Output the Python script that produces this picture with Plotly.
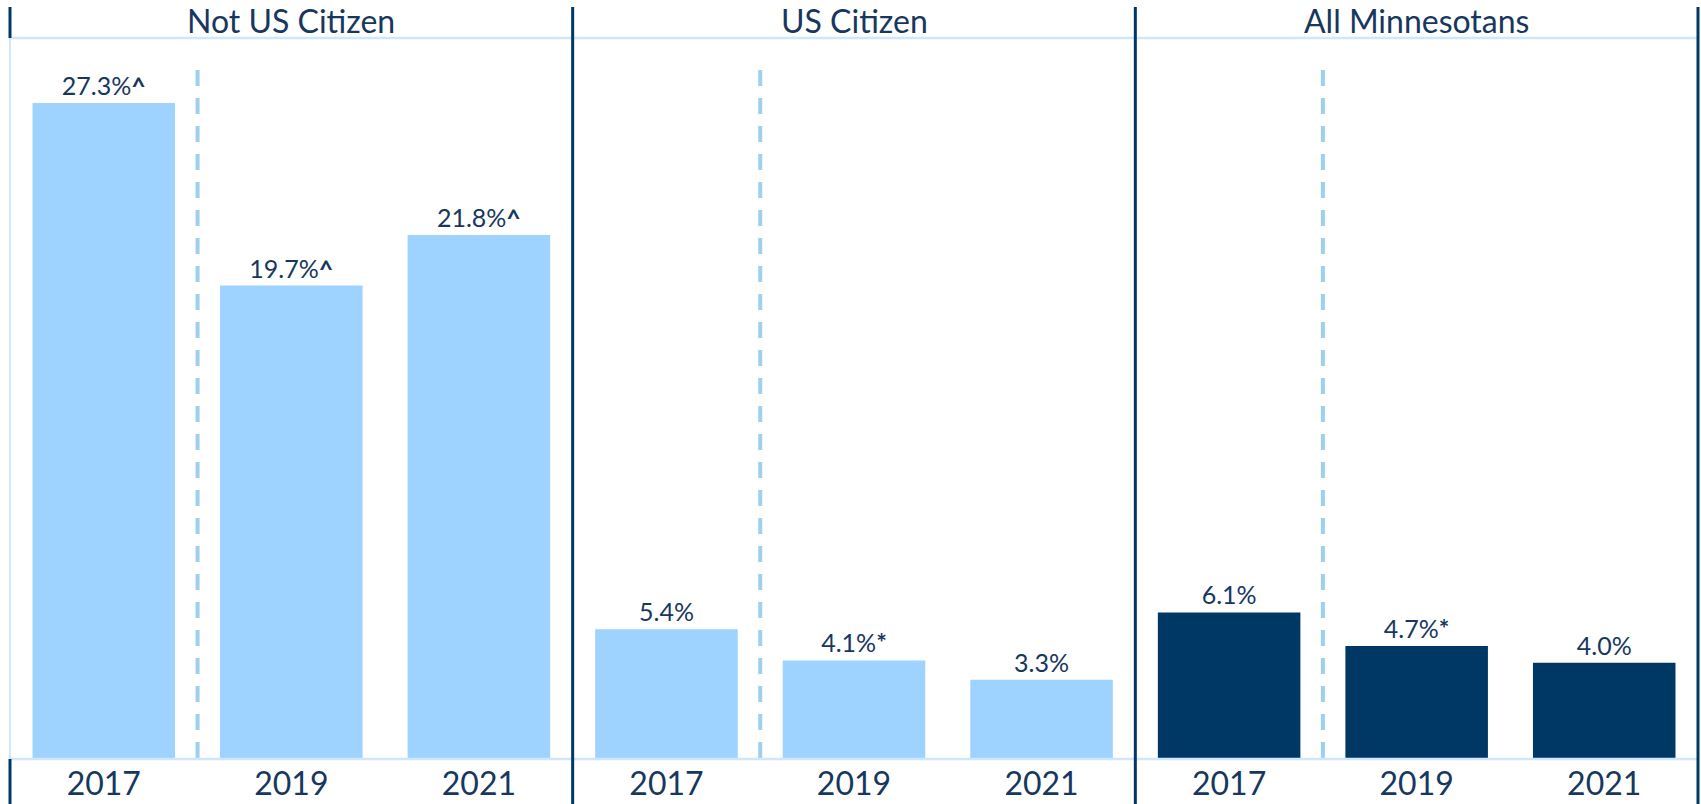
import plotly.graph_objects as go
from plotly.subplots import make_subplots

# ---- data ----
groups = ["Not US Citizen", "US Citizen", "All Minnesotans"]
years = ["2017", "2019", "2021"]
not_citizen = [27.3, 19.7, 21.8]
citizen = [5.4, 4.1, 3.3]
all_mn = [6.1, 4.7, 4.0]
not_citizen_flags = ["^", "^", "^"]
citizen_flags = ["", "*", ""]
all_mn_flags = ["", "*", ""]

series = [not_citizen, citizen, all_mn]
flags = [not_citizen_flags, citizen_flags, all_mn_flags]
colors = ["#9ed2ff", "#9ed2ff", "#003865"]

NAVY = "#003865"
TEXT = "#17375e"
LIGHT = "#cfe6fb"
DASH = "#9dcfee"
FONT = "Lato"

W, H = 1701, 804
ML, MR, MT, MB = 10, 3, 38, 45
PH = H - MT - MB

fig = make_subplots(rows=1, cols=3, shared_yaxes=True, horizontal_spacing=0)

for i, (vals, fl) in enumerate(zip(series, flags)):
    labels = [f"{v:.1f}%" + (f"<b>{f}</b>" if f else "") for v, f in zip(vals, fl)]
    fig.add_trace(
        go.Bar(
            x=years, y=vals, text=labels, textposition="outside",
            marker=dict(color=colors[i], line=dict(width=0)),
            width=0.76, cliponaxis=False,
            textfont=dict(family=FONT, size=25, color=TEXT),
            showlegend=False, hoverinfo="x+y",
        ),
        row=1, col=i + 1,
    )
    xr = "x" if i == 0 else f"x{i+1}"
    # dashed separator between 2017 and 2019
    fig.add_shape(type="line", xref=xr, yref="y", x0=0.5, x1=0.5, y0=28.67, y1=0,
                  line=dict(color=DASH, width=4, dash="16px,12px"), layer="below")
    # panel header
    fig.add_annotation(text=groups[i], xref=f"{xr} domain", yref="paper", x=0.5, y=1.024,
                       yanchor="middle", showarrow=False,
                       font=dict(family=FONT, size=32, color=TEXT))

for i in range(1, 4):
    fig.update_xaxes(row=1, col=i, type="category", categoryarray=years, range=[-0.5, 2.5],
                     showgrid=False, zeroline=False, showline=False, ticks="",
                     ticklabelstandoff=3,
                     tickfont=dict(family=FONT, size=32, color=TEXT), fixedrange=True)
fig.update_yaxes(range=[0, 30], showgrid=False, zeroline=False, showticklabels=False,
                 showline=False, ticks="", fixedrange=True)

top_p = 1 + (MT - 7) / PH
bot_p = -MB / PH
# frame lines (light blue)
fig.add_shape(type="line", xref="paper", yref="paper", x0=0, x1=1, y0=1, y1=1,
              line=dict(color=LIGHT, width=2.5))
fig.add_shape(type="line", xref="paper", yref="paper", x0=0, x1=1, y0=0, y1=0,
              line=dict(color=LIGHT, width=2.5))
fig.add_shape(type="line", xref="paper", yref="paper", x0=0, x1=0, y0=0, y1=1,
              line=dict(color=LIGHT, width=2))
# navy borders
for x in [1 / 3, 2 / 3, 1.0]:
    fig.add_shape(type="line", xref="paper", yref="paper", x0=x, x1=x, y0=bot_p, y1=top_p,
                  line=dict(color=NAVY, width=3))
fig.add_shape(type="line", xref="paper", yref="paper", x0=0, x1=0, y0=1, y1=top_p,
              line=dict(color=NAVY, width=3))
fig.add_shape(type="line", xref="paper", yref="paper", x0=0, x1=0, y0=bot_p, y1=0,
              line=dict(color=NAVY, width=3))

fig.update_layout(
    width=W, height=H,
    margin=dict(l=ML, r=MR, t=MT, b=MB),
    paper_bgcolor="white", plot_bgcolor="white",
    font=dict(family=FONT, color=TEXT),
)

fig.write_html("out.html",
               config={"displayModeBar": False},
               post_script="document.body.style.margin='0';document.body.style.overflow='hidden';")
